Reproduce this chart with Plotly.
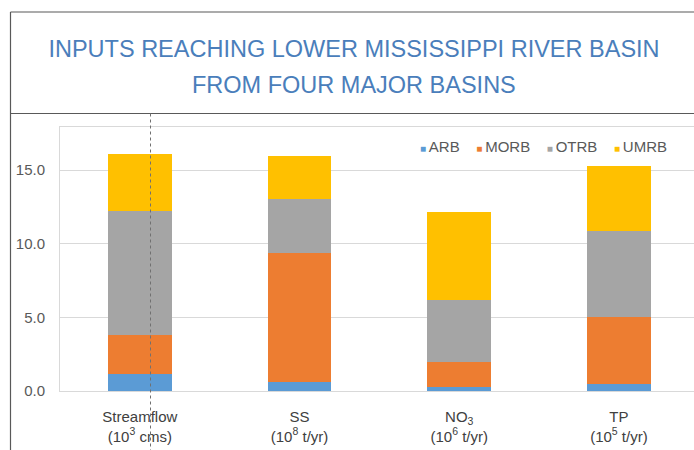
import plotly.graph_objects as go

categories = ["Streamflow<br>(10<sup>3</sup> cms)", "SS<br>(10<sup>8</sup> t/yr)",
              "NO<sub>3</sub><br>(10<sup>6</sup> t/yr)", "TP<br>(10<sup>5</sup> t/yr)"]
series_names = ["ARB", "MORB", "OTRB", "UMRB"]
arb = [1.15, 0.6, 0.25, 0.5]
morb = [2.65, 8.75, 1.7, 4.5]
otrb = [8.45, 3.7, 4.2, 5.85]
umrb = [3.85, 2.9, 6.0, 4.45]
series_values = [arb, morb, otrb, umrb]
colors = ["#5B9BD5", "#ED7D31", "#A5A5A5", "#FFC000"]
y_ticks = [0, 5, 10, 15]
y_tick_labels = ["0.0", "5.0", "10.0", "15.0"]
title_line1 = "INPUTS REACHING LOWER MISSISSIPPI RIVER BASIN"
title_line2 = "FROM FOUR MAJOR BASINS"

W, H = 694, 450
ML, MR, MT, MB = 60, 0, 127, 59
PW, PH = W - ML - MR, H - MT - MB

def px(x):
    return (x - ML) / PW

def py(y):
    return (H - MB - y) / PH

fig = go.Figure()
for name, vals, col in zip(series_names, series_values, colors):
    fig.add_trace(go.Bar(x=list(range(len(categories))), y=vals, name=name,
                         marker=dict(color=col, line=dict(width=0)), showlegend=False))

gap = "&nbsp;" * 4
legend_text = gap.join(
    f"<span style='font-size:10px;color:{c}'>■&nbsp;</span>{n}" for n, c in zip(series_names, colors))

title_font = dict(family="Liberation Sans", size=23.5, color="#4A7EBB")
line_col = "#595959"
fig.update_layout(
    width=W, height=H,
    margin=dict(l=ML, r=MR, t=MT, b=MB),
    paper_bgcolor="white", plot_bgcolor="white",
    barmode="stack", bargap=0.6,
    title=dict(text=title_line1, x=354 / W, xanchor="center", y=1 - 49 / H, yanchor="middle",
               font=title_font),
    xaxis=dict(tickmode="array", tickvals=list(range(len(categories))), ticktext=categories,
               range=[-0.5, 3.47], showgrid=False, showline=True, linecolor="#D9D9D9",
               linewidth=1, mirror=True, ticks="", ticklabelstandoff=12,
               tickfont=dict(family="Liberation Sans", size=15, color="#404040"), fixedrange=True),
    yaxis=dict(tickmode="array", tickvals=y_ticks, ticktext=y_tick_labels, range=[0, 17.92],
               showgrid=True, gridcolor="#D9D9D9", gridwidth=1, showline=True,
               linecolor="#D9D9D9", mirror=True, zeroline=False, ticks="", ticklabelstandoff=11,
               tickfont=dict(family="Liberation Sans", size=15, color="#595959"), fixedrange=True),
    annotations=[
        dict(text=legend_text, xref="paper", yref="paper", x=px(669), y=py(146),
             xanchor="right", yanchor="middle", showarrow=False,
             font=dict(family="Liberation Sans", size=15, color="#595959")),
        dict(text=title_line2, xref="paper", yref="paper", x=px(354), y=py(84.5),
             xanchor="center", yanchor="middle", showarrow=False, font=title_font),
    ],
    shapes=[
        dict(type="line", xref="paper", yref="paper", x0=px(10.5), x1=px(10.5), y0=py(12), y1=py(450),
             line=dict(color=line_col, width=1.2)),
        dict(type="line", xref="paper", yref="paper", x0=px(10.5), x1=px(694), y0=py(12), y1=py(12),
             line=dict(color=line_col, width=1.2)),
        dict(type="line", xref="paper", yref="paper", x0=px(10.5), x1=px(694), y0=py(113.5), y1=py(113.5),
             line=dict(color=line_col, width=1.2)),
        dict(type="line", xref="paper", yref="paper", x0=px(150.5), x1=px(150.5), y0=py(113.5), y1=py(450),
             line=dict(color="#707070", width=1, dash="3px,3px")),
    ],
)

fig.write_html("out.html", config={"displayModeBar": False},
               post_script="document.body.style.margin='0';document.body.style.overflow='hidden';")
